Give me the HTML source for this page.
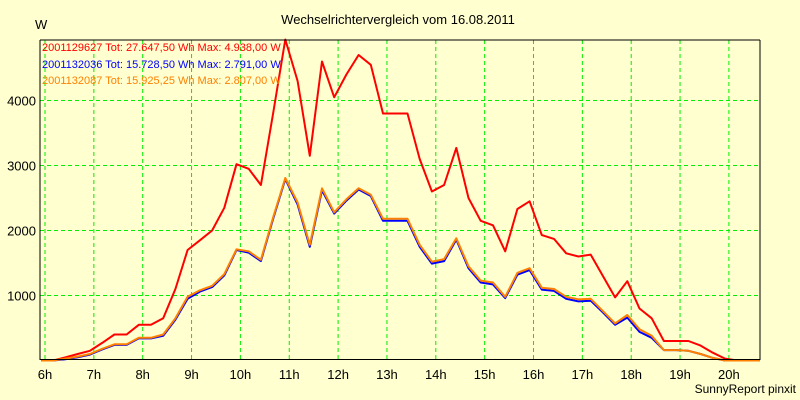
<!DOCTYPE html>
<html><head><meta charset="utf-8"><style>
body{margin:0;background:#ffffd0;}
svg{display:block;font-family:"Liberation Sans",sans-serif;}
</style></head><body>
<svg id="chart" width="800" height="400">
<rect x="0" y="0" width="800" height="400" fill="#ffffd0"/>
<text x="398" y="24" font-size="13" text-anchor="middle">Wechselrichtervergleich vom 16.08.2011</text>
<text x="35" y="29" font-size="13">W</text>
<g id="grid"></g>
<g id="series"></g>
<line x1="40" y1="40" x2="760" y2="40" stroke="#000"/>
<line x1="760" y1="40" x2="760" y2="360" stroke="#000"/>
<line x1="40" y1="40" x2="40" y2="360" stroke="#000"/>
<line x1="40" y1="359.5" x2="760" y2="359.5" stroke="#000"/>
<g id="labels"></g>
<text x="42" y="51" font-size="11" fill="#ff0000">2001129627 Tot: 27.647,50 Wh Max: 4.938,00 W</text>
<text x="42" y="68" font-size="11" fill="#0000ff">2001132036 Tot: 15.728,50 Wh Max: 2.791,00 W</text>
<text x="42" y="84" font-size="11" fill="#ff8000">2001132087 Tot: 15.925,25 Wh Max: 2.807,00 W</text>
<text x="796" y="393" font-size="12" text-anchor="end">SunnyReport pinxit</text>
</svg>
<script>
const hourTicks=[6,7,8,9,10,11,12,13,14,15,16,17,18,19,20];
const yTicks=[1000,2000,3000,4000];
const startHour=5.92;
const stepHours=0.25;
const redValues=[0,0,50,100,150,270,400,400,550,550,650,1100,1700,1850,2000,2350,3020,2950,2700,3800,4938,4300,3150,4600,4050,4400,4700,4550,3800,3800,3800,3100,2600,2700,3270,2500,2150,2080,1680,2330,2450,1930,1870,1650,1600,1630,1300,970,1220,800,650,300,300,300,230,120,30,0,0,0];
const blueValues=[0,0,20,50,90,170,240,240,340,340,380,630,950,1060,1130,1310,1700,1660,1530,2180,2791,2400,1750,2620,2260,2460,2630,2530,2150,2150,2150,1750,1490,1530,1860,1420,1200,1170,960,1320,1390,1090,1070,950,910,920,740,550,660,440,350,160,160,150,100,40,0,0,0,0];
const orangeValues=[0,0,30,60,100,180,250,250,350,350,400,650,980,1080,1150,1330,1710,1680,1550,2200,2807,2430,1780,2650,2280,2480,2650,2550,2180,2180,2180,1780,1520,1560,1880,1450,1230,1200,980,1350,1420,1120,1100,980,940,950,760,570,700,480,380,160,160,150,100,40,0,0,0,0];
const NS='http://www.w3.org/2000/svg';
function xScale(h){return 45+(h-6)*48.85;}
function yScale(v){return 360.5-v*0.065;}
const grid=document.getElementById('grid'),labels=document.getElementById('labels'),series=document.getElementById('series');
hourTicks.forEach(h=>{
 const l=document.createElementNS(NS,'line');
 l.setAttribute('x1',xScale(h));l.setAttribute('x2',xScale(h));l.setAttribute('y1',40);l.setAttribute('y2',360);
 l.setAttribute('stroke','#00ee00');l.setAttribute('stroke-dasharray','4,3');
 
 
 grid.appendChild(l);
 const t=document.createElementNS(NS,'text');
 t.setAttribute('x',xScale(h));t.setAttribute('y',379);t.setAttribute('font-size','13');t.setAttribute('text-anchor','middle');
 t.textContent=h+'h';
 
 
 labels.appendChild(t);
});
yTicks.forEach(v=>{
 const l=document.createElementNS(NS,'line');
 l.setAttribute('x1',40);l.setAttribute('x2',760);l.setAttribute('y1',yScale(v));l.setAttribute('y2',yScale(v));
 l.setAttribute('stroke','#00ee00');l.setAttribute('stroke-dasharray','4,3');
 
 
 grid.appendChild(l);
 const t=document.createElementNS(NS,'text');
 t.setAttribute('x',36);t.setAttribute('y',yScale(v)+5);t.setAttribute('font-size','13');t.setAttribute('text-anchor','end');
 t.textContent=v;
 
 
 labels.appendChild(t);
});
function draw(vals,color,name){
 const pts=vals.map((v,i)=>Math.max(40,Math.min(760,xScale(startHour+i*stepHours))).toFixed(1)+','+yScale(v).toFixed(1));
 pts.push('760,'+yScale(vals[vals.length-1]).toFixed(1));
 const p=document.createElementNS(NS,'polyline');
 p.setAttribute('points',pts.join(' '));
 p.setAttribute('fill','none');p.setAttribute('stroke',color);p.setAttribute('stroke-width','2');p.setAttribute('stroke-linejoin','round');
 
 
 series.appendChild(p);
}
draw(redValues,'#ff0000','series-red-line');
draw(blueValues,'#0000ff','series-blue-line');
draw(orangeValues,'#ff8000','series-orange-line');
</script>
</body></html>
